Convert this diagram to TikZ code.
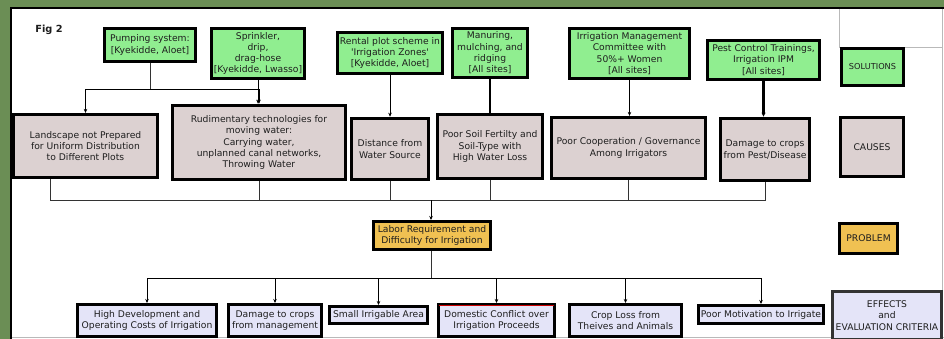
\documentclass[tikz,border=0pt]{standalone}
\usepackage{fontspec}
\setmainfont{DejaVu Sans}[Ligatures=TeXOff]
\usetikzlibrary{arrows.meta,shadows}
\definecolor{bggreen}{HTML}{6B8E55}
\definecolor{solfill}{HTML}{90EE90}
\definecolor{causefill}{HTML}{DCD1D1}
\definecolor{probfill}{HTML}{F0C152}
\definecolor{efffill}{HTML}{E4E4F8}
\definecolor{txt}{HTML}{1E1E1E}
\newcommand\mybox[7]{\node[#1, minimum width={(#5-#3-3)*1pt}, minimum height={(#6-#4-3)*1pt}] (#2) at ({(#3+#5)/2},{(#4+#6)/2}) {#7};}
\tikzset{
  basebox/.style={draw=black, inner sep=0pt, align=center, text=txt,
    font=\fontsize{9.2}{11.3}\selectfont,
    drop shadow={shadow xshift=1.2pt, shadow yshift=-1.2pt, fill=black, opacity=0.25}},
  solbox/.style={basebox, fill=solfill, line width=3.5pt},
  causebox/.style={basebox, fill=causefill, line width=3.2pt},
  probbox/.style={basebox, fill=probfill, line width=3pt},
  effbox/.style={basebox, fill=efffill, line width=3pt},
  conn/.style={draw=black, line width=0.9pt, -{Stealth[length=4pt,width=3.5pt]}},
  plain/.style={draw=black!80, line width=0.9pt},
  thickconn/.style={draw=black, line width=2.6pt},
}
\begin{document}
\begin{tikzpicture}[x=1pt,y=-1pt]
\useasboundingbox (0,0) rectangle (944,339);
\fill[bggreen] (0,0) rectangle (944,339);
\fill[white] (11,8) rectangle (944,339);
\draw[black, line width=2.2pt] (11,339) -- (11,8) -- (944,8);
\draw[gray!55, line width=0.8pt] (942,9) -- (942,339);
\draw[gray!55, line width=0.8pt] (12,337.5) -- (944,337.5);
\draw[gray!55, line width=0.8pt] (839,9) -- (839,47) -- (942,47);
\node[font=\bfseries\fontsize{9.8}{11}\selectfont, text=txt, inner sep=0pt] (fig) at (49,30) {Fig 2};

% solutions
\mybox{solbox}{pump}{103}{27}{197}{63}{Pumping system:\\{[Kyekidde, Aloet]}}
\mybox{solbox}{spr}{210}{27}{306}{80}{Sprinkler,\\drip,\\drag-hose\\{[Kyekidde, Lwasso]}}
\mybox{solbox}{rent}{336}{31}{444}{75}{Rental plot scheme in\\'Irrigation Zones'\\{[Kyekidde, Aloet]}}
\mybox{solbox}{manu}{451}{27}{529}{79}{Manuring,\\mulching, and\\ridging\\{[All sites]}}
\mybox{solbox}{img}{568}{27}{691}{80}{Irrigation Management\\Committee with\\50\%+ Women\\{[All sites]}}
\mybox{solbox}{pest}{706}{39}{821}{81}{Pest Control Trainings,\\Irrigation IPM\\{[All sites]}}
\mybox{solbox, font=\fontsize{8.2}{10}\selectfont}{lsol}{840}{47}{905}{87}{SOLUTIONS}

% causes
\mybox{causebox}{land}{12}{113}{159}{179}{Landscape not Prepared\\for Uniform Distribution\\to Different Plots}
\mybox{causebox, line width=3.6pt}{rud}{171}{104}{347}{181}{Rudimentary technologies for\\moving water:\\Carrying water,\\unplanned canal networks,\\Throwing Water}
\mybox{causebox, line width=3.6pt}{dist}{350}{117}{430}{181}{Distance from\\Water Source}
\mybox{causebox, line width=3.6pt}{soil}{436}{113}{544}{180}{Poor Soil Fertilty and\\Soil-Type with\\High Water Loss}
\mybox{causebox}{coop}{550}{116}{707}{180}{Poor Cooperation / Governance\\Among Irrigators}
\mybox{causebox, line width=3.6pt}{dmg}{719}{117}{811}{182}{Damage to crops\\from Pest/Disease}
\mybox{causebox, line width=3.6pt}{lcause}{839}{116}{905}{178}{CAUSES}

% problem
\mybox{probbox}{prob}{372}{220}{492}{251}{Labor Requirement and\\Difficulty for Irrigation}
\mybox{probbox, line width=3.4pt}{lprob}{838}{222}{899}{255}{PROBLEM}

% effects
\mybox{effbox}{e1}{76}{303}{218}{338}{High Development and\\Operating Costs of Irrigation}
\mybox{effbox}{e2}{227}{303}{323}{338}{Damage to crops\\from management}
\mybox{effbox}{e3}{328}{305}{429}{325}{Small Irrigable Area}
\mybox{effbox}{e4}{437}{303}{556}{338}{Domestic Conflict over\\Irrigation Proceeds}
\mybox{effbox}{e5}{568}{303}{683}{338}{Crop Loss from\\Theives and Animals}
\mybox{effbox}{e6}{697}{304}{825}{325}{Poor Motivation to Irrigate}
\mybox{effbox, draw=black!80}{leff}{831}{290}{943}{341}{EFFECTS\\and\\EVALUATION CRITERIA}
\draw[red!80!black, line width=0.7pt] ([xshift=1.6pt,yshift=-1.9pt]e4.north west) -- ([xshift=-1.6pt,yshift=-1.9pt]e4.north east);

% solutions -> causes
\coordinate (j1) at (150,89);
\draw[plain] (pump.south) -- (j1);
\draw[conn] (j1) -| (land.north);
\draw[conn] (j1) -| (rud.north);
\draw[conn] (spr.south) -- (spr.south |- rud.north);
\draw[conn] (rent.south) -- (rent.south |- dist.north);
\draw[thickconn] (manu.south) -- (manu.south |- soil.north);
\draw[conn] (img.south) -- (img.south |- coop.north);
\draw[thickconn, -{Stealth[length=4pt,width=4pt]}] (pest.south) -- (pest.south |- dmg.north);

% causes -> problem
\coordinate (cb) at (431,200);
\draw[plain] ([xshift=-35.5pt]land.south) |- (cb);
\draw[plain] (rud.south) |- (cb);
\draw[plain] (dist.south) |- (cb);
\draw[plain] (soil.south) |- (cb);
\draw[plain] (coop.south) |- (cb);
\draw[plain] (dmg.south) |- (cb);
\draw[conn] (cb) -- (cb |- prob.north);

% problem -> effects
\coordinate (eb) at (431,278);
\draw[plain] (prob.south -| eb) -- (eb);
\draw[conn] (eb) -| (e1.north);
\draw[conn] (eb) -| (e2.north);
\draw[conn] (eb) -| (e3.north);
\draw[conn] (eb) -| (e4.north);
\draw[conn] (eb) -| (e5.north);
\draw[conn] (eb) -| (e6.north);
\end{tikzpicture}
\end{document}
